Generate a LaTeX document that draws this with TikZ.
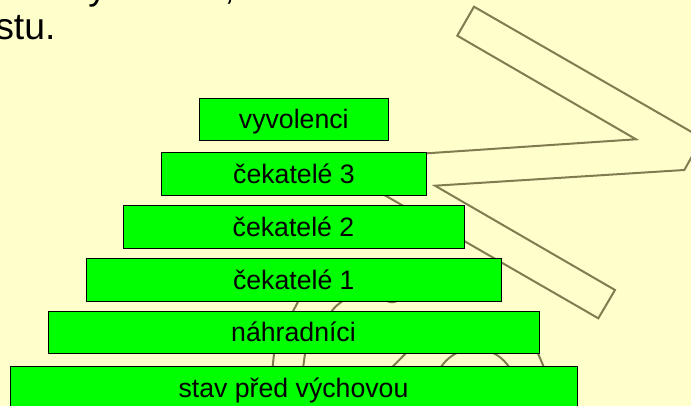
\documentclass[tikz,border=0pt]{standalone}
\usepackage{fontspec}
\setmainfont{Liberation Sans}
\definecolor{bg}{HTML}{FFFFCC}
\definecolor{olive}{RGB}{128,124,80}
\definecolor{boxgreen}{HTML}{00FF00}
\begin{document}
\begin{tikzpicture}[x=0.75pt,y=-0.75pt,
  stepbox/.style={draw=black, fill=boxgreen, line width=0.75pt, inner sep=0pt,
    minimum height=32pt, font=\fontsize{20}{24}\selectfont,
    text height=18.1pt, text depth=4.24pt},
  outline/.style={draw=olive, line width=1.5pt, line join=miter},
  toptext/.style={font=\fontsize{28}{34}\selectfont, inner sep=0pt, anchor=base west}]
\useasboundingbox[fill=bg] (0,0) rectangle (691,406);
% top text (cropped)
\node[toptext] (t1) at (-5,40) {stu.};
\node[toptext] (t2) at (88,-0.5) {y};
\node[toptext] (t3) at (224,-0.5) {,};
% zigzag outline
\draw[outline] (474,6.7) -- (702.2,138.1) -- (684.3,170) -- (435,185.7) -- (615,290)
  -- (598.3,318.3) -- (324,160.2) -- (636,139.3) -- (457.3,35.7) -- cycle;
% hidden curves behind the boxes
\draw[outline] (300.5,297) -- (292.1,313);
\draw[outline] (347,298) .. controls (338,304) and (333,308) .. (330,314);
\draw[outline] (382,297) .. controls (388,304) and (396,304) .. (402,297);
\draw[outline] (274.3,351) -- (272.4,369);
\draw[outline] (305.4,351) -- (302.9,369);
\draw[outline] (408,351) -- (390.4,369);
\draw[outline] (475,389.5) circle[radius=40.8];
\draw[outline] (537,351) -- (544.6,369);
% boxes
\node[stepbox, minimum width=141.75pt] (b1) at (293.8,119.5) {vyvolenci};
\node[stepbox, minimum width=198.45pt] (b2) at (294,173.8) {čekatelé 3};
\node[stepbox, minimum width=255.75pt] (b3) at (293.5,227) {čekatelé 2};
\node[stepbox, minimum width=311.6pt] (b4) at (293.8,279.8) {čekatelé 1};
\node[stepbox, minimum width=368.25pt] (b5) at (293.5,332.6) {náhradníci};
\node[stepbox, minimum width=425.25pt] (b6) at (293.5,388) {stav před výchovou};
\end{tikzpicture}
\end{document}
